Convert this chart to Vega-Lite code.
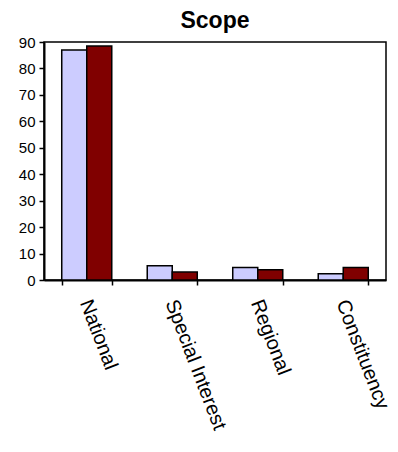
{
  "$schema": "https://vega.github.io/schema/vega-lite/v6.json",
  "width": 342,
  "height": 238,
  "autosize": {"type": "none"},
  "padding": {"left": 44, "top": 42, "right": 12, "bottom": 172},
  "background": "white",
  "title": {"text": "Scope", "font": "Liberation Sans", "fontSize": 23, "fontWeight": "bold", "color": "black", "anchor": "middle", "offset": 2},
  "config": {"view": {"stroke": "black", "strokeWidth": 1.5}},
  "data": {"values": [
    {"scope": "National", "series": "Series 1", "value": 87},
    {"scope": "National", "series": "Series 2", "value": 88.5},
    {"scope": "Special Interest", "series": "Series 1", "value": 5.4},
    {"scope": "Special Interest", "series": "Series 2", "value": 3.0},
    {"scope": "Regional", "series": "Series 1", "value": 4.7},
    {"scope": "Regional", "series": "Series 2", "value": 3.9},
    {"scope": "Constituency", "series": "Series 1", "value": 2.4},
    {"scope": "Constituency", "series": "Series 2", "value": 4.7}
  ]},
  "mark": {"type": "bar", "stroke": "black", "strokeWidth": 1.5},
  "encoding": {
    "x": {"field": "scope", "type": "nominal", "sort": null,
      "scale": {"paddingInner": 0.415, "paddingOuter": 0.2075},
      "axis": {"title": null, "labelAngle": 69, "labelAlign": "left", "labelBaseline": "middle", "labelFont": "Liberation Sans", "labelFontSize": 20, "labelColor": "black", "labelPadding": 15, "labelOffset": -2, "tickBand": "extent", "tickSize": 5, "tickColor": "black", "tickWidth": 1.5, "domainColor": "black", "domainWidth": 2}},
    "xOffset": {"field": "series", "type": "nominal", "scale": {"paddingInner": 0, "paddingOuter": 0}},
    "y": {"field": "value", "type": "quantitative",
      "scale": {"domain": [0, 90], "nice": false},
      "axis": {"title": null, "values": [0,10,20,30,40,50,60,70,80,90], "grid": false, "labelFont": "Liberation Sans", "labelFontSize": 15, "labelColor": "black", "labelPadding": 4, "tickSize": 5, "tickColor": "black", "tickWidth": 1.5, "domainColor": "black", "domainWidth": 2}},
    "color": {"field": "series", "type": "nominal", "legend": null,
      "scale": {"domain": ["Series 1", "Series 2"], "range": ["#CCCCFF", "#800000"]}}
  }
}
